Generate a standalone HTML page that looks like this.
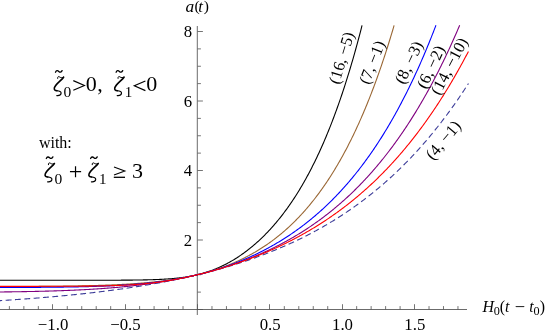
<!DOCTYPE html>
<html><head><meta charset="utf-8"><style>
html,body{margin:0;padding:0;background:#fff}
svg{display:block;will-change:transform}
text{font-family:"Liberation Serif",serif;fill:#000}
.i{font-style:italic}
</style></head><body>
<svg width="545" height="333" viewBox="0 0 545 333">
<rect width="545" height="333" fill="#fff"/>
<path d="M0 309.5 H467" stroke="#505050" stroke-width="0.85" fill="none"/>
<path d="M197.3 26 V315" stroke="#505050" stroke-width="0.85" fill="none"/>
<path d="M9.39 309.5 v-3.4 M23.86 309.5 v-3.4 M38.33 309.5 v-3.4 M52.50 309.5 v-5.3 M67.27 309.5 v-3.4 M81.74 309.5 v-3.4 M96.21 309.5 v-3.4 M110.68 309.5 v-3.4 M125.50 309.5 v-5.3 M139.62 309.5 v-3.4 M154.09 309.5 v-3.4 M168.56 309.5 v-3.4 M183.03 309.5 v-3.4 M197.50 309.5 v-5.3 M211.97 309.5 v-3.4 M226.44 309.5 v-3.4 M240.91 309.5 v-3.4 M255.38 309.5 v-3.4 M269.50 309.5 v-5.3 M284.32 309.5 v-3.4 M298.79 309.5 v-3.4 M313.26 309.5 v-3.4 M327.73 309.5 v-3.4 M342.50 309.5 v-5.3 M356.67 309.5 v-3.4 M371.14 309.5 v-3.4 M385.61 309.5 v-3.4 M400.08 309.5 v-3.4 M414.50 309.5 v-5.3 M429.02 309.5 v-3.4 M443.49 309.5 v-3.4 M457.96 309.5 v-3.4 M197.5 309.50 h5.4 M197.5 292.12 h3.4 M197.5 274.75 h3.4 M197.5 257.38 h3.4 M197.5 240.00 h5.4 M197.5 222.62 h3.4 M197.5 205.25 h3.4 M197.5 187.88 h3.4 M197.5 170.50 h5.4 M197.5 153.12 h3.4 M197.5 135.75 h3.4 M197.5 118.38 h3.4 M197.5 101.00 h5.4 M197.5 83.62 h3.4 M197.5 66.25 h3.4 M197.5 48.88 h3.4 M197.5 31.50 h5.4" stroke="#505050" stroke-width="0.8" fill="none"/>
<path d="M-1.61 300.72 L-0.82 300.67 L-0.04 300.63 L0.74 300.58 L1.53 300.53 L2.31 300.48 L3.09 300.43 L3.88 300.38 L4.66 300.33 L5.44 300.28 L6.23 300.23 L7.01 300.18 L7.79 300.13 L8.58 300.08 L9.36 300.03 L10.14 299.98 L10.93 299.93 L11.71 299.88 L12.49 299.82 L13.28 299.77 L14.06 299.72 L14.84 299.67 L15.63 299.61 L16.41 299.56 L17.20 299.50 L17.98 299.45 L18.76 299.40 L19.55 299.34 L20.33 299.29 L21.11 299.23 L21.90 299.17 L22.68 299.12 L23.46 299.06 L24.25 299.01 L25.03 298.95 L25.81 298.89 L26.60 298.83 L27.38 298.78 L28.16 298.72 L28.95 298.66 L29.73 298.60 L30.51 298.54 L31.30 298.48 L32.08 298.42 L32.86 298.36 L33.65 298.30 L34.43 298.24 L35.21 298.18 L36.00 298.12 L36.78 298.06 L37.56 297.99 L38.35 297.93 L39.13 297.87 L39.91 297.81 L40.70 297.74 L41.48 297.68 L42.26 297.61 L43.05 297.55 L43.83 297.48 L44.62 297.42 L45.40 297.35 L46.18 297.29 L46.97 297.22 L47.75 297.15 L48.53 297.09 L49.32 297.02 L50.10 296.95 L50.88 296.88 L51.67 296.82 L52.45 296.75 L53.23 296.68 L54.02 296.61 L54.80 296.54 L55.58 296.47 L56.37 296.40 L57.15 296.33 L57.93 296.25 L58.72 296.18 L59.50 296.11 L60.28 296.04 L61.07 295.96 L61.85 295.89 L62.63 295.82 L63.42 295.74 L64.20 295.67 L64.98 295.59 L65.77 295.52 L66.55 295.44 L67.33 295.37 L68.12 295.29 L68.90 295.21 L69.68 295.13 L70.47 295.06 L71.25 294.98 L72.04 294.90 L72.82 294.82 L73.60 294.74 L74.39 294.66 L75.17 294.58 L75.95 294.50 L76.74 294.42 L77.52 294.33 L78.30 294.25 L79.09 294.17 L79.87 294.09 L80.65 294.00 L81.44 293.92 L82.22 293.83 L83.00 293.75 L83.79 293.66 L84.57 293.58 L85.35 293.49 L86.14 293.40 L86.92 293.32 L87.70 293.23 L88.49 293.14 L89.27 293.05 L90.05 292.96 L90.84 292.87 L91.62 292.78 L92.40 292.69 L93.19 292.60 L93.97 292.51 L94.75 292.42 L95.54 292.32 L96.32 292.23 L97.10 292.14 L97.89 292.04 L98.67 291.95 L99.46 291.85 L100.24 291.76 L101.02 291.66 L101.81 291.56 L102.59 291.47 L103.37 291.37 L104.16 291.27 L104.94 291.17 L105.72 291.07 L106.51 290.97 L107.29 290.87 L108.07 290.77 L108.86 290.67 L109.64 290.57 L110.42 290.46 L111.21 290.36 L111.99 290.26 L112.77 290.15 L113.56 290.05 L114.34 289.94 L115.12 289.83 L115.91 289.73 L116.69 289.62 L117.47 289.51 L118.26 289.40 L119.04 289.29 L119.82 289.18 L120.61 289.07 L121.39 288.96 L122.17 288.85 L122.96 288.74 L123.74 288.63 L124.53 288.51 L125.31 288.40 L126.09 288.29 L126.88 288.17 L127.66 288.05 L128.44 287.94 L129.23 287.82 L130.01 287.70 L130.79 287.58 L131.58 287.47 L132.36 287.35 L133.14 287.23 L133.93 287.11 L134.71 286.98 L135.49 286.86 L136.28 286.74 L137.06 286.61 L137.84 286.49 L138.63 286.37 L139.41 286.24 L140.19 286.11 L140.98 285.99 L141.76 285.86 L142.54 285.73 L143.33 285.60 L144.11 285.47 L144.89 285.34 L145.68 285.21 L146.46 285.08 L147.24 284.95 L148.03 284.81 L148.81 284.68 L149.59 284.54 L150.38 284.41 L151.16 284.27 L151.95 284.14 L152.73 284.00 L153.51 283.86 L154.30 283.72 L155.08 283.58 L155.86 283.44 L156.65 283.30 L157.43 283.16 L158.21 283.01 L159.00 282.87 L159.78 282.72 L160.56 282.58 L161.35 282.43 L162.13 282.29 L162.91 282.14 L163.70 281.99 L164.48 281.84 L165.26 281.69 L166.05 281.54 L166.83 281.39 L167.61 281.23 L168.40 281.08 L169.18 280.93 L169.96 280.77 L170.75 280.62 L171.53 280.46 L172.31 280.30 L173.10 280.14 L173.88 279.98 L174.66 279.82 L175.45 279.66 L176.23 279.50 L177.01 279.34 L177.80 279.17 L178.58 279.01 L179.37 278.84 L180.15 278.68 L180.93 278.51 L181.72 278.34 L182.50 278.17 L183.28 278.00 L184.07 277.83 L184.85 277.66 L185.63 277.49 L186.42 277.31 L187.20 277.14 L187.98 276.96 L188.77 276.79 L189.55 276.61 L190.33 276.43 L191.12 276.25 L191.90 276.07 L192.68 275.89 L193.47 275.71 L194.25 275.52 L195.03 275.34 L195.82 275.15 L196.60 274.97 L197.38 274.78 L198.17 274.59 L198.95 274.40 L199.73 274.21 L200.52 274.02 L201.30 273.83 L202.08 273.63 L202.87 273.44 L203.65 273.24 L204.43 273.04 L205.22 272.85 L206.00 272.65 L206.79 272.45 L207.57 272.25 L208.35 272.04 L209.14 271.84 L209.92 271.64 L210.70 271.43 L211.49 271.22 L212.27 271.02 L213.05 270.81 L213.84 270.60 L214.62 270.39 L215.40 270.17 L216.19 269.96 L216.97 269.75 L217.75 269.53 L218.54 269.31 L219.32 269.09 L220.10 268.87 L220.89 268.65 L221.67 268.43 L222.45 268.21 L223.24 267.99 L224.02 267.76 L224.80 267.53 L225.59 267.31 L226.37 267.08 L227.15 266.85 L227.94 266.61 L228.72 266.38 L229.50 266.15 L230.29 265.91 L231.07 265.68 L231.85 265.44 L232.64 265.20 L233.42 264.96 L234.21 264.72 L234.99 264.47 L235.77 264.23 L236.56 263.98 L237.34 263.74 L238.12 263.49 L238.91 263.24 L239.69 262.99 L240.47 262.73 L241.26 262.48 L242.04 262.22 L242.82 261.97 L243.61 261.71 L244.39 261.45 L245.17 261.19 L245.96 260.93 L246.74 260.66 L247.52 260.40 L248.31 260.13 L249.09 259.86 L249.87 259.59 L250.66 259.32 L251.44 259.05 L252.22 258.78 L253.01 258.50 L253.79 258.23 L254.57 257.95 L255.36 257.67 L256.14 257.39 L256.92 257.10 L257.71 256.82 L258.49 256.53 L259.27 256.24 L260.06 255.96 L260.84 255.66 L261.63 255.37 L262.41 255.08 L263.19 254.78 L263.98 254.49 L264.76 254.19 L265.54 253.89 L266.33 253.59 L267.11 253.28 L267.89 252.98 L268.68 252.67 L269.46 252.36 L270.24 252.05 L271.03 251.74 L271.81 251.43 L272.59 251.11 L273.38 250.79 L274.16 250.47 L274.94 250.15 L275.73 249.83 L276.51 249.51 L277.29 249.18 L278.08 248.86 L278.86 248.53 L279.64 248.19 L280.43 247.86 L281.21 247.53 L281.99 247.19 L282.78 246.85 L283.56 246.51 L284.34 246.17 L285.13 245.83 L285.91 245.48 L286.70 245.13 L287.48 244.78 L288.26 244.43 L289.05 244.08 L289.83 243.72 L290.61 243.37 L291.40 243.01 L292.18 242.65 L292.96 242.28 L293.75 241.92 L294.53 241.55 L295.31 241.18 L296.10 240.81 L296.88 240.44 L297.66 240.06 L298.45 239.69 L299.23 239.31 L300.01 238.93 L300.80 238.54 L301.58 238.16 L302.36 237.77 L303.15 237.38 L303.93 236.99 L304.71 236.60 L305.50 236.20 L306.28 235.80 L307.06 235.40 L307.85 235.00 L308.63 234.60 L309.41 234.19 L310.20 233.78 L310.98 233.37 L311.76 232.96 L312.55 232.54 L313.33 232.12 L314.12 231.70 L314.90 231.28 L315.68 230.86 L316.47 230.43 L317.25 230.00 L318.03 229.57 L318.82 229.14 L319.60 228.70 L320.38 228.26 L321.17 227.82 L321.95 227.38 L322.73 226.93 L323.52 226.48 L324.30 226.03 L325.08 225.58 L325.87 225.12 L326.65 224.66 L327.43 224.20 L328.22 223.74 L329.00 223.28 L329.78 222.81 L330.57 222.34 L331.35 221.86 L332.13 221.39 L332.92 220.91 L333.70 220.43 L334.48 219.94 L335.27 219.46 L336.05 218.97 L336.83 218.48 L337.62 217.98 L338.40 217.49 L339.18 216.99 L339.97 216.49 L340.75 215.98 L341.54 215.47 L342.32 214.96 L343.10 214.45 L343.89 213.93 L344.67 213.41 L345.45 212.89 L346.24 212.37 L347.02 211.84 L347.80 211.31 L348.59 210.78 L349.37 210.24 L350.15 209.70 L350.94 209.16 L351.72 208.62 L352.50 208.07 L353.29 207.52 L354.07 206.96 L354.85 206.41 L355.64 205.85 L356.42 205.29 L357.20 204.72 L357.99 204.15 L358.77 203.58 L359.55 203.00 L360.34 202.43 L361.12 201.84 L361.90 201.26 L362.69 200.67 L363.47 200.08 L364.25 199.49 L365.04 198.89 L365.82 198.29 L366.60 197.69 L367.39 197.08 L368.17 196.47 L368.96 195.85 L369.74 195.24 L370.52 194.62 L371.31 193.99 L372.09 193.37 L372.87 192.74 L373.66 192.10 L374.44 191.47 L375.22 190.82 L376.01 190.18 L376.79 189.53 L377.57 188.88 L378.36 188.23 L379.14 187.57 L379.92 186.91 L380.71 186.24 L381.49 185.57 L382.27 184.90 L383.06 184.22 L383.84 183.54 L384.62 182.86 L385.41 182.17 L386.19 181.48 L386.97 180.78 L387.76 180.09 L388.54 179.38 L389.32 178.68 L390.11 177.97 L390.89 177.25 L391.67 176.53 L392.46 175.81 L393.24 175.09 L394.02 174.36 L394.81 173.62 L395.59 172.89 L396.38 172.14 L397.16 171.40 L397.94 170.65 L398.73 169.89 L399.51 169.14 L400.29 168.37 L401.08 167.61 L401.86 166.84 L402.64 166.06 L403.43 165.29 L404.21 164.50 L404.99 163.72 L405.78 162.92 L406.56 162.13 L407.34 161.33 L408.13 160.52 L408.91 159.71 L409.69 158.90 L410.48 158.08 L411.26 157.26 L412.04 156.44 L412.83 155.60 L413.61 154.77 L414.39 153.93 L415.18 153.08 L415.96 152.24 L416.74 151.38 L417.53 150.52 L418.31 149.66 L419.09 148.79 L419.88 147.92 L420.66 147.04 L421.44 146.16 L422.23 145.27 L423.01 144.38 L423.80 143.49 L424.58 142.58 L425.36 141.68 L426.15 140.77 L426.93 139.85 L427.71 138.93 L428.50 138.00 L429.28 137.07 L430.06 136.14 L430.85 135.20 L431.63 134.25 L432.41 133.30 L433.20 132.34 L433.98 131.38 L434.76 130.41 L435.55 129.44 L436.33 128.46 L437.11 127.48 L437.90 126.49 L438.68 125.50 L439.46 124.50 L440.25 123.50 L441.03 122.49 L441.81 121.47 L442.60 120.45 L443.38 119.42 L444.16 118.39 L444.95 117.35 L445.73 116.31 L446.51 115.26 L447.30 114.21 L448.08 113.15 L448.87 112.08 L449.65 111.01 L450.43 109.93 L451.22 108.85 L452.00 107.76 L452.78 106.66 L453.57 105.56 L454.35 104.46 L455.13 103.34 L455.92 102.22 L456.70 101.10 L457.48 99.97 L458.27 98.83 L459.05 97.69 L459.83 96.54 L460.62 95.38 L461.40 94.22 L462.18 93.05 L462.97 91.87 L463.75 90.69 L464.53 89.50 L465.32 88.31 L466.10 87.11 L466.88 85.90 L467.67 84.69 L468.45 83.47" fill="none" stroke="#3d3d99" stroke-width="1.1" stroke-dasharray="5.9 3.455" stroke-dashoffset="2.1"/>
<path d="M-1.61 280.28 L-0.82 280.28 L-0.04 280.28 L0.74 280.28 L1.53 280.28 L2.31 280.28 L3.09 280.28 L3.88 280.28 L4.66 280.28 L5.44 280.28 L6.23 280.28 L7.01 280.28 L7.79 280.28 L8.58 280.28 L9.36 280.28 L10.14 280.28 L10.93 280.28 L11.71 280.28 L12.49 280.28 L13.28 280.28 L14.06 280.28 L14.84 280.28 L15.63 280.28 L16.41 280.28 L17.20 280.28 L17.98 280.28 L18.76 280.28 L19.55 280.28 L20.33 280.28 L21.11 280.28 L21.90 280.28 L22.68 280.28 L23.46 280.28 L24.25 280.28 L25.03 280.28 L25.81 280.28 L26.60 280.28 L27.38 280.28 L28.16 280.28 L28.95 280.28 L29.73 280.28 L30.51 280.28 L31.30 280.28 L32.08 280.28 L32.86 280.28 L33.65 280.28 L34.43 280.28 L35.21 280.28 L36.00 280.28 L36.78 280.28 L37.56 280.28 L38.35 280.28 L39.13 280.28 L39.91 280.28 L40.70 280.28 L41.48 280.28 L42.26 280.28 L43.05 280.28 L43.83 280.28 L44.62 280.28 L45.40 280.28 L46.18 280.28 L46.97 280.28 L47.75 280.28 L48.53 280.28 L49.32 280.28 L50.10 280.28 L50.88 280.28 L51.67 280.28 L52.45 280.28 L53.23 280.28 L54.02 280.28 L54.80 280.28 L55.58 280.28 L56.37 280.28 L57.15 280.28 L57.93 280.28 L58.72 280.28 L59.50 280.28 L60.28 280.28 L61.07 280.27 L61.85 280.27 L62.63 280.27 L63.42 280.27 L64.20 280.27 L64.98 280.27 L65.77 280.27 L66.55 280.27 L67.33 280.27 L68.12 280.27 L68.90 280.27 L69.68 280.27 L70.47 280.27 L71.25 280.27 L72.04 280.27 L72.82 280.27 L73.60 280.27 L74.39 280.27 L75.17 280.27 L75.95 280.27 L76.74 280.27 L77.52 280.27 L78.30 280.27 L79.09 280.27 L79.87 280.27 L80.65 280.27 L81.44 280.27 L82.22 280.27 L83.00 280.27 L83.79 280.27 L84.57 280.26 L85.35 280.26 L86.14 280.26 L86.92 280.26 L87.70 280.26 L88.49 280.26 L89.27 280.26 L90.05 280.26 L90.84 280.26 L91.62 280.26 L92.40 280.26 L93.19 280.26 L93.97 280.26 L94.75 280.25 L95.54 280.25 L96.32 280.25 L97.10 280.25 L97.89 280.25 L98.67 280.25 L99.46 280.25 L100.24 280.25 L101.02 280.24 L101.81 280.24 L102.59 280.24 L103.37 280.24 L104.16 280.24 L104.94 280.24 L105.72 280.23 L106.51 280.23 L107.29 280.23 L108.07 280.23 L108.86 280.22 L109.64 280.22 L110.42 280.22 L111.21 280.22 L111.99 280.21 L112.77 280.21 L113.56 280.21 L114.34 280.21 L115.12 280.20 L115.91 280.20 L116.69 280.20 L117.47 280.19 L118.26 280.19 L119.04 280.18 L119.82 280.18 L120.61 280.18 L121.39 280.17 L122.17 280.17 L122.96 280.16 L123.74 280.16 L124.53 280.15 L125.31 280.14 L126.09 280.14 L126.88 280.13 L127.66 280.13 L128.44 280.12 L129.23 280.11 L130.01 280.11 L130.79 280.10 L131.58 280.09 L132.36 280.08 L133.14 280.07 L133.93 280.06 L134.71 280.05 L135.49 280.04 L136.28 280.03 L137.06 280.02 L137.84 280.01 L138.63 280.00 L139.41 279.99 L140.19 279.98 L140.98 279.96 L141.76 279.95 L142.54 279.93 L143.33 279.92 L144.11 279.90 L144.89 279.89 L145.68 279.87 L146.46 279.85 L147.24 279.84 L148.03 279.82 L148.81 279.80 L149.59 279.78 L150.38 279.75 L151.16 279.73 L151.95 279.71 L152.73 279.68 L153.51 279.66 L154.30 279.63 L155.08 279.60 L155.86 279.57 L156.65 279.54 L157.43 279.51 L158.21 279.48 L159.00 279.45 L159.78 279.41 L160.56 279.37 L161.35 279.34 L162.13 279.30 L162.91 279.25 L163.70 279.21 L164.48 279.17 L165.26 279.12 L166.05 279.07 L166.83 279.02 L167.61 278.97 L168.40 278.92 L169.18 278.86 L169.96 278.80 L170.75 278.74 L171.53 278.68 L172.31 278.61 L173.10 278.54 L173.88 278.47 L174.66 278.40 L175.45 278.33 L176.23 278.25 L177.01 278.17 L177.80 278.08 L178.58 277.99 L179.37 277.90 L180.15 277.81 L180.93 277.71 L181.72 277.61 L182.50 277.51 L183.28 277.40 L184.07 277.29 L184.85 277.18 L185.63 277.06 L186.42 276.94 L187.20 276.81 L187.98 276.68 L188.77 276.55 L189.55 276.41 L190.33 276.27 L191.12 276.12 L191.90 275.97 L192.68 275.81 L193.47 275.65 L194.25 275.49 L195.03 275.32 L195.82 275.14 L196.60 274.96 L197.38 274.78 L198.17 274.59 L198.95 274.39 L199.73 274.19 L200.52 273.99 L201.30 273.78 L202.08 273.56 L202.87 273.34 L203.65 273.11 L204.43 272.88 L205.22 272.64 L206.00 272.39 L206.79 272.14 L207.57 271.89 L208.35 271.63 L209.14 271.36 L209.92 271.08 L210.70 270.80 L211.49 270.52 L212.27 270.23 L213.05 269.93 L213.84 269.63 L214.62 269.31 L215.40 269.00 L216.19 268.68 L216.97 268.35 L217.75 268.01 L218.54 267.67 L219.32 267.32 L220.10 266.97 L220.89 266.60 L221.67 266.24 L222.45 265.86 L223.24 265.48 L224.02 265.09 L224.80 264.70 L225.59 264.30 L226.37 263.89 L227.15 263.48 L227.94 263.06 L228.72 262.63 L229.50 262.20 L230.29 261.76 L231.07 261.31 L231.85 260.85 L232.64 260.39 L233.42 259.92 L234.21 259.45 L234.99 258.96 L235.77 258.47 L236.56 257.98 L237.34 257.47 L238.12 256.96 L238.91 256.45 L239.69 255.92 L240.47 255.39 L241.26 254.85 L242.04 254.30 L242.82 253.75 L243.61 253.18 L244.39 252.61 L245.17 252.04 L245.96 251.45 L246.74 250.86 L247.52 250.26 L248.31 249.65 L249.09 249.04 L249.87 248.42 L250.66 247.79 L251.44 247.15 L252.22 246.50 L253.01 245.85 L253.79 245.18 L254.57 244.51 L255.36 243.83 L256.14 243.15 L256.92 242.45 L257.71 241.75 L258.49 241.03 L259.27 240.31 L260.06 239.58 L260.84 238.85 L261.63 238.10 L262.41 237.34 L263.19 236.58 L263.98 235.80 L264.76 235.02 L265.54 234.23 L266.33 233.43 L267.11 232.62 L267.89 231.80 L268.68 230.97 L269.46 230.13 L270.24 229.28 L271.03 228.42 L271.81 227.55 L272.59 226.68 L273.38 225.79 L274.16 224.89 L274.94 223.98 L275.73 223.06 L276.51 222.13 L277.29 221.20 L278.08 220.25 L278.86 219.28 L279.64 218.31 L280.43 217.33 L281.21 216.34 L281.99 215.33 L282.78 214.32 L283.56 213.29 L284.34 212.25 L285.13 211.20 L285.91 210.14 L286.70 209.06 L287.48 207.98 L288.26 206.88 L289.05 205.77 L289.83 204.65 L290.61 203.51 L291.40 202.37 L292.18 201.21 L292.96 200.03 L293.75 198.85 L294.53 197.65 L295.31 196.44 L296.10 195.21 L296.88 193.97 L297.66 192.72 L298.45 191.45 L299.23 190.17 L300.01 188.88 L300.80 187.57 L301.58 186.25 L302.36 184.91 L303.15 183.56 L303.93 182.19 L304.71 180.81 L305.50 179.41 L306.28 178.00 L307.06 176.57 L307.85 175.12 L308.63 173.66 L309.41 172.19 L310.20 170.70 L310.98 169.19 L311.76 167.66 L312.55 166.12 L313.33 164.56 L314.12 162.99 L314.90 161.40 L315.68 159.79 L316.47 158.16 L317.25 156.51 L318.03 154.85 L318.82 153.17 L319.60 151.47 L320.38 149.75 L321.17 148.01 L321.95 146.26 L322.73 144.48 L323.52 142.68 L324.30 140.87 L325.08 139.04 L325.87 137.18 L326.65 135.31 L327.43 133.41 L328.22 131.50 L329.00 129.56 L329.78 127.60 L330.57 125.62 L331.35 123.62 L332.13 121.60 L332.92 119.56 L333.70 117.49 L334.48 115.40 L335.27 113.29 L336.05 111.15 L336.83 108.99 L337.62 106.81 L338.40 104.61 L339.18 102.38 L339.97 100.12 L340.75 97.84 L341.54 95.54 L342.32 93.21 L343.10 90.86 L343.89 88.48 L344.67 86.07 L345.45 83.64 L346.24 81.18 L347.02 78.70 L347.80 76.18 L348.59 73.65 L349.37 71.08 L350.15 68.48 L350.94 65.86 L351.72 63.21 L352.50 60.53 L353.29 57.82 L354.07 55.08 L354.85 52.31 L355.64 49.51 L356.42 46.68 L357.20 43.82 L357.99 40.92 L358.77 38.00 L359.55 35.05 L360.34 32.06 L361.12 29.04 L361.90 25.98 L362.08 25.30" fill="none" stroke="#000000" stroke-width="1.1"/>
<path d="M-1.61 286.63 L-0.82 286.63 L-0.04 286.62 L0.74 286.62 L1.53 286.62 L2.31 286.62 L3.09 286.61 L3.88 286.61 L4.66 286.61 L5.44 286.61 L6.23 286.60 L7.01 286.60 L7.79 286.60 L8.58 286.59 L9.36 286.59 L10.14 286.59 L10.93 286.59 L11.71 286.58 L12.49 286.58 L13.28 286.58 L14.06 286.57 L14.84 286.57 L15.63 286.57 L16.41 286.56 L17.20 286.56 L17.98 286.55 L18.76 286.55 L19.55 286.55 L20.33 286.54 L21.11 286.54 L21.90 286.53 L22.68 286.53 L23.46 286.53 L24.25 286.52 L25.03 286.52 L25.81 286.51 L26.60 286.51 L27.38 286.50 L28.16 286.50 L28.95 286.50 L29.73 286.49 L30.51 286.49 L31.30 286.48 L32.08 286.48 L32.86 286.47 L33.65 286.46 L34.43 286.46 L35.21 286.45 L36.00 286.45 L36.78 286.44 L37.56 286.44 L38.35 286.43 L39.13 286.42 L39.91 286.42 L40.70 286.41 L41.48 286.41 L42.26 286.40 L43.05 286.39 L43.83 286.39 L44.62 286.38 L45.40 286.37 L46.18 286.36 L46.97 286.36 L47.75 286.35 L48.53 286.34 L49.32 286.33 L50.10 286.33 L50.88 286.32 L51.67 286.31 L52.45 286.30 L53.23 286.29 L54.02 286.28 L54.80 286.28 L55.58 286.27 L56.37 286.26 L57.15 286.25 L57.93 286.24 L58.72 286.23 L59.50 286.22 L60.28 286.21 L61.07 286.20 L61.85 286.19 L62.63 286.18 L63.42 286.17 L64.20 286.16 L64.98 286.14 L65.77 286.13 L66.55 286.12 L67.33 286.11 L68.12 286.10 L68.90 286.08 L69.68 286.07 L70.47 286.06 L71.25 286.05 L72.04 286.03 L72.82 286.02 L73.60 286.01 L74.39 285.99 L75.17 285.98 L75.95 285.96 L76.74 285.95 L77.52 285.93 L78.30 285.92 L79.09 285.90 L79.87 285.89 L80.65 285.87 L81.44 285.85 L82.22 285.84 L83.00 285.82 L83.79 285.80 L84.57 285.78 L85.35 285.77 L86.14 285.75 L86.92 285.73 L87.70 285.71 L88.49 285.69 L89.27 285.67 L90.05 285.65 L90.84 285.63 L91.62 285.61 L92.40 285.59 L93.19 285.57 L93.97 285.54 L94.75 285.52 L95.54 285.50 L96.32 285.47 L97.10 285.45 L97.89 285.43 L98.67 285.40 L99.46 285.38 L100.24 285.35 L101.02 285.33 L101.81 285.30 L102.59 285.27 L103.37 285.24 L104.16 285.22 L104.94 285.19 L105.72 285.16 L106.51 285.13 L107.29 285.10 L108.07 285.07 L108.86 285.04 L109.64 285.01 L110.42 284.97 L111.21 284.94 L111.99 284.91 L112.77 284.87 L113.56 284.84 L114.34 284.80 L115.12 284.77 L115.91 284.73 L116.69 284.70 L117.47 284.66 L118.26 284.62 L119.04 284.58 L119.82 284.54 L120.61 284.50 L121.39 284.46 L122.17 284.42 L122.96 284.38 L123.74 284.33 L124.53 284.29 L125.31 284.24 L126.09 284.20 L126.88 284.15 L127.66 284.10 L128.44 284.06 L129.23 284.01 L130.01 283.96 L130.79 283.91 L131.58 283.86 L132.36 283.80 L133.14 283.75 L133.93 283.70 L134.71 283.64 L135.49 283.59 L136.28 283.53 L137.06 283.47 L137.84 283.41 L138.63 283.35 L139.41 283.29 L140.19 283.23 L140.98 283.17 L141.76 283.10 L142.54 283.04 L143.33 282.97 L144.11 282.91 L144.89 282.84 L145.68 282.77 L146.46 282.70 L147.24 282.63 L148.03 282.55 L148.81 282.48 L149.59 282.41 L150.38 282.33 L151.16 282.25 L151.95 282.17 L152.73 282.09 L153.51 282.01 L154.30 281.93 L155.08 281.84 L155.86 281.76 L156.65 281.67 L157.43 281.58 L158.21 281.49 L159.00 281.40 L159.78 281.31 L160.56 281.22 L161.35 281.12 L162.13 281.02 L162.91 280.93 L163.70 280.83 L164.48 280.73 L165.26 280.62 L166.05 280.52 L166.83 280.41 L167.61 280.30 L168.40 280.19 L169.18 280.08 L169.96 279.97 L170.75 279.86 L171.53 279.74 L172.31 279.62 L173.10 279.50 L173.88 279.38 L174.66 279.26 L175.45 279.13 L176.23 279.00 L177.01 278.87 L177.80 278.74 L178.58 278.61 L179.37 278.48 L180.15 278.34 L180.93 278.20 L181.72 278.06 L182.50 277.92 L183.28 277.77 L184.07 277.62 L184.85 277.47 L185.63 277.32 L186.42 277.17 L187.20 277.01 L187.98 276.86 L188.77 276.70 L189.55 276.53 L190.33 276.37 L191.12 276.20 L191.90 276.03 L192.68 275.86 L193.47 275.69 L194.25 275.51 L195.03 275.33 L195.82 275.15 L196.60 274.96 L197.38 274.78 L198.17 274.59 L198.95 274.40 L199.73 274.20 L200.52 274.01 L201.30 273.81 L202.08 273.60 L202.87 273.40 L203.65 273.19 L204.43 272.98 L205.22 272.77 L206.00 272.55 L206.79 272.33 L207.57 272.11 L208.35 271.89 L209.14 271.66 L209.92 271.43 L210.70 271.20 L211.49 270.96 L212.27 270.72 L213.05 270.48 L213.84 270.23 L214.62 269.98 L215.40 269.73 L216.19 269.48 L216.97 269.22 L217.75 268.96 L218.54 268.69 L219.32 268.42 L220.10 268.15 L220.89 267.88 L221.67 267.60 L222.45 267.32 L223.24 267.03 L224.02 266.74 L224.80 266.45 L225.59 266.16 L226.37 265.86 L227.15 265.55 L227.94 265.25 L228.72 264.94 L229.50 264.62 L230.29 264.30 L231.07 263.98 L231.85 263.66 L232.64 263.33 L233.42 262.99 L234.21 262.66 L234.99 262.32 L235.77 261.97 L236.56 261.62 L237.34 261.27 L238.12 260.91 L238.91 260.55 L239.69 260.18 L240.47 259.81 L241.26 259.44 L242.04 259.06 L242.82 258.68 L243.61 258.29 L244.39 257.90 L245.17 257.50 L245.96 257.10 L246.74 256.70 L247.52 256.29 L248.31 255.87 L249.09 255.46 L249.87 255.03 L250.66 254.60 L251.44 254.17 L252.22 253.73 L253.01 253.29 L253.79 252.84 L254.57 252.39 L255.36 251.93 L256.14 251.47 L256.92 251.00 L257.71 250.53 L258.49 250.05 L259.27 249.57 L260.06 249.08 L260.84 248.58 L261.63 248.08 L262.41 247.58 L263.19 247.07 L263.98 246.55 L264.76 246.03 L265.54 245.50 L266.33 244.97 L267.11 244.43 L267.89 243.89 L268.68 243.34 L269.46 242.78 L270.24 242.22 L271.03 241.65 L271.81 241.08 L272.59 240.50 L273.38 239.92 L274.16 239.32 L274.94 238.73 L275.73 238.12 L276.51 237.51 L277.29 236.89 L278.08 236.27 L278.86 235.64 L279.64 235.00 L280.43 234.36 L281.21 233.71 L281.99 233.05 L282.78 232.39 L283.56 231.72 L284.34 231.04 L285.13 230.36 L285.91 229.66 L286.70 228.97 L287.48 228.26 L288.26 227.55 L289.05 226.83 L289.83 226.10 L290.61 225.36 L291.40 224.62 L292.18 223.87 L292.96 223.11 L293.75 222.35 L294.53 221.57 L295.31 220.79 L296.10 220.00 L296.88 219.21 L297.66 218.40 L298.45 217.59 L299.23 216.77 L300.01 215.94 L300.80 215.10 L301.58 214.25 L302.36 213.40 L303.15 212.53 L303.93 211.66 L304.71 210.78 L305.50 209.89 L306.28 208.99 L307.06 208.08 L307.85 207.16 L308.63 206.24 L309.41 205.30 L310.20 204.36 L310.98 203.40 L311.76 202.44 L312.55 201.47 L313.33 200.48 L314.12 199.49 L314.90 198.49 L315.68 197.48 L316.47 196.45 L317.25 195.42 L318.03 194.38 L318.82 193.32 L319.60 192.26 L320.38 191.19 L321.17 190.10 L321.95 189.00 L322.73 187.90 L323.52 186.78 L324.30 185.65 L325.08 184.51 L325.87 183.36 L326.65 182.20 L327.43 181.03 L328.22 179.84 L329.00 178.65 L329.78 177.44 L330.57 176.22 L331.35 174.99 L332.13 173.74 L332.92 172.49 L333.70 171.22 L334.48 169.94 L335.27 168.64 L336.05 167.34 L336.83 166.02 L337.62 164.69 L338.40 163.34 L339.18 161.98 L339.97 160.61 L340.75 159.23 L341.54 157.83 L342.32 156.42 L343.10 154.99 L343.89 153.55 L344.67 152.10 L345.45 150.63 L346.24 149.15 L347.02 147.66 L347.80 146.15 L348.59 144.62 L349.37 143.08 L350.15 141.53 L350.94 139.96 L351.72 138.37 L352.50 136.77 L353.29 135.15 L354.07 133.52 L354.85 131.88 L355.64 130.21 L356.42 128.53 L357.20 126.84 L357.99 125.13 L358.77 123.40 L359.55 121.65 L360.34 119.89 L361.12 118.11 L361.90 116.31 L362.69 114.50 L363.47 112.67 L364.25 110.82 L365.04 108.95 L365.82 107.07 L366.60 105.17 L367.39 103.24 L368.17 101.30 L368.96 99.35 L369.74 97.37 L370.52 95.37 L371.31 93.36 L372.09 91.32 L372.87 89.27 L373.66 87.19 L374.44 85.10 L375.22 82.98 L376.01 80.85 L376.79 78.69 L377.57 76.52 L378.36 74.32 L379.14 72.10 L379.92 69.86 L380.71 67.60 L381.49 65.32 L382.27 63.02 L383.06 60.69 L383.84 58.34 L384.62 55.97 L385.41 53.57 L386.19 51.16 L386.97 48.72 L387.76 46.25 L388.54 43.77 L389.32 41.25 L390.11 38.72 L390.89 36.16 L391.67 33.58 L392.46 30.97 L393.24 28.33 L394.02 25.67 L394.13 25.30" fill="none" stroke="#996633" stroke-width="1.1"/>
<path d="M-1.61 287.52 L-0.82 287.52 L-0.04 287.52 L0.74 287.51 L1.53 287.51 L2.31 287.51 L3.09 287.51 L3.88 287.51 L4.66 287.50 L5.44 287.50 L6.23 287.50 L7.01 287.50 L7.79 287.49 L8.58 287.49 L9.36 287.49 L10.14 287.49 L10.93 287.48 L11.71 287.48 L12.49 287.48 L13.28 287.48 L14.06 287.47 L14.84 287.47 L15.63 287.47 L16.41 287.46 L17.20 287.46 L17.98 287.46 L18.76 287.45 L19.55 287.45 L20.33 287.45 L21.11 287.44 L21.90 287.44 L22.68 287.44 L23.46 287.43 L24.25 287.43 L25.03 287.42 L25.81 287.42 L26.60 287.42 L27.38 287.41 L28.16 287.41 L28.95 287.40 L29.73 287.40 L30.51 287.39 L31.30 287.39 L32.08 287.39 L32.86 287.38 L33.65 287.38 L34.43 287.37 L35.21 287.37 L36.00 287.36 L36.78 287.35 L37.56 287.35 L38.35 287.34 L39.13 287.34 L39.91 287.33 L40.70 287.33 L41.48 287.32 L42.26 287.31 L43.05 287.31 L43.83 287.30 L44.62 287.29 L45.40 287.29 L46.18 287.28 L46.97 287.27 L47.75 287.27 L48.53 287.26 L49.32 287.25 L50.10 287.24 L50.88 287.24 L51.67 287.23 L52.45 287.22 L53.23 287.21 L54.02 287.20 L54.80 287.19 L55.58 287.18 L56.37 287.18 L57.15 287.17 L57.93 287.16 L58.72 287.15 L59.50 287.14 L60.28 287.13 L61.07 287.12 L61.85 287.11 L62.63 287.09 L63.42 287.08 L64.20 287.07 L64.98 287.06 L65.77 287.05 L66.55 287.04 L67.33 287.03 L68.12 287.01 L68.90 287.00 L69.68 286.99 L70.47 286.97 L71.25 286.96 L72.04 286.95 L72.82 286.93 L73.60 286.92 L74.39 286.90 L75.17 286.89 L75.95 286.87 L76.74 286.86 L77.52 286.84 L78.30 286.83 L79.09 286.81 L79.87 286.79 L80.65 286.78 L81.44 286.76 L82.22 286.74 L83.00 286.72 L83.79 286.70 L84.57 286.68 L85.35 286.66 L86.14 286.64 L86.92 286.62 L87.70 286.60 L88.49 286.58 L89.27 286.56 L90.05 286.54 L90.84 286.52 L91.62 286.49 L92.40 286.47 L93.19 286.45 L93.97 286.42 L94.75 286.40 L95.54 286.37 L96.32 286.35 L97.10 286.32 L97.89 286.29 L98.67 286.27 L99.46 286.24 L100.24 286.21 L101.02 286.18 L101.81 286.15 L102.59 286.12 L103.37 286.09 L104.16 286.06 L104.94 286.03 L105.72 286.00 L106.51 285.97 L107.29 285.93 L108.07 285.90 L108.86 285.86 L109.64 285.83 L110.42 285.79 L111.21 285.76 L111.99 285.72 L112.77 285.68 L113.56 285.64 L114.34 285.60 L115.12 285.56 L115.91 285.52 L116.69 285.48 L117.47 285.44 L118.26 285.39 L119.04 285.35 L119.82 285.30 L120.61 285.26 L121.39 285.21 L122.17 285.16 L122.96 285.12 L123.74 285.07 L124.53 285.02 L125.31 284.97 L126.09 284.91 L126.88 284.86 L127.66 284.81 L128.44 284.75 L129.23 284.70 L130.01 284.64 L130.79 284.58 L131.58 284.53 L132.36 284.47 L133.14 284.41 L133.93 284.34 L134.71 284.28 L135.49 284.22 L136.28 284.15 L137.06 284.09 L137.84 284.02 L138.63 283.95 L139.41 283.88 L140.19 283.81 L140.98 283.74 L141.76 283.67 L142.54 283.60 L143.33 283.52 L144.11 283.45 L144.89 283.37 L145.68 283.29 L146.46 283.21 L147.24 283.13 L148.03 283.05 L148.81 282.97 L149.59 282.88 L150.38 282.79 L151.16 282.71 L151.95 282.62 L152.73 282.53 L153.51 282.44 L154.30 282.35 L155.08 282.25 L155.86 282.16 L156.65 282.06 L157.43 281.96 L158.21 281.86 L159.00 281.76 L159.78 281.66 L160.56 281.55 L161.35 281.45 L162.13 281.34 L162.91 281.23 L163.70 281.12 L164.48 281.01 L165.26 280.90 L166.05 280.78 L166.83 280.67 L167.61 280.55 L168.40 280.43 L169.18 280.31 L169.96 280.19 L170.75 280.06 L171.53 279.94 L172.31 279.81 L173.10 279.68 L173.88 279.55 L174.66 279.41 L175.45 279.28 L176.23 279.14 L177.01 279.01 L177.80 278.87 L178.58 278.73 L179.37 278.58 L180.15 278.44 L180.93 278.29 L181.72 278.14 L182.50 277.99 L183.28 277.84 L184.07 277.69 L184.85 277.53 L185.63 277.37 L186.42 277.21 L187.20 277.05 L187.98 276.89 L188.77 276.72 L189.55 276.56 L190.33 276.39 L191.12 276.22 L191.90 276.04 L192.68 275.87 L193.47 275.69 L194.25 275.51 L195.03 275.33 L195.82 275.15 L196.60 274.96 L197.38 274.78 L198.17 274.59 L198.95 274.40 L199.73 274.21 L200.52 274.01 L201.30 273.81 L202.08 273.61 L202.87 273.41 L203.65 273.21 L204.43 273.00 L205.22 272.80 L206.00 272.59 L206.79 272.37 L207.57 272.16 L208.35 271.94 L209.14 271.72 L209.92 271.50 L210.70 271.28 L211.49 271.06 L212.27 270.83 L213.05 270.60 L213.84 270.37 L214.62 270.13 L215.40 269.90 L216.19 269.66 L216.97 269.42 L217.75 269.17 L218.54 268.93 L219.32 268.68 L220.10 268.43 L220.89 268.18 L221.67 267.92 L222.45 267.66 L223.24 267.40 L224.02 267.14 L224.80 266.88 L225.59 266.61 L226.37 266.34 L227.15 266.07 L227.94 265.79 L228.72 265.52 L229.50 265.24 L230.29 264.95 L231.07 264.67 L231.85 264.38 L232.64 264.09 L233.42 263.80 L234.21 263.51 L234.99 263.21 L235.77 262.91 L236.56 262.60 L237.34 262.30 L238.12 261.99 L238.91 261.68 L239.69 261.37 L240.47 261.05 L241.26 260.73 L242.04 260.41 L242.82 260.09 L243.61 259.76 L244.39 259.43 L245.17 259.10 L245.96 258.76 L246.74 258.42 L247.52 258.08 L248.31 257.74 L249.09 257.39 L249.87 257.04 L250.66 256.69 L251.44 256.33 L252.22 255.97 L253.01 255.61 L253.79 255.25 L254.57 254.88 L255.36 254.51 L256.14 254.14 L256.92 253.76 L257.71 253.38 L258.49 253.00 L259.27 252.61 L260.06 252.22 L260.84 251.83 L261.63 251.44 L262.41 251.04 L263.19 250.64 L263.98 250.23 L264.76 249.82 L265.54 249.41 L266.33 249.00 L267.11 248.58 L267.89 248.16 L268.68 247.74 L269.46 247.31 L270.24 246.88 L271.03 246.44 L271.81 246.01 L272.59 245.56 L273.38 245.12 L274.16 244.67 L274.94 244.22 L275.73 243.76 L276.51 243.31 L277.29 242.84 L278.08 242.38 L278.86 241.91 L279.64 241.43 L280.43 240.96 L281.21 240.48 L281.99 239.99 L282.78 239.50 L283.56 239.01 L284.34 238.52 L285.13 238.02 L285.91 237.51 L286.70 237.01 L287.48 236.50 L288.26 235.98 L289.05 235.46 L289.83 234.94 L290.61 234.41 L291.40 233.88 L292.18 233.35 L292.96 232.81 L293.75 232.27 L294.53 231.72 L295.31 231.17 L296.10 230.61 L296.88 230.06 L297.66 229.49 L298.45 228.92 L299.23 228.35 L300.01 227.78 L300.80 227.19 L301.58 226.61 L302.36 226.02 L303.15 225.43 L303.93 224.83 L304.71 224.22 L305.50 223.62 L306.28 223.00 L307.06 222.39 L307.85 221.77 L308.63 221.14 L309.41 220.51 L310.20 219.88 L310.98 219.24 L311.76 218.59 L312.55 217.94 L313.33 217.29 L314.12 216.63 L314.90 215.96 L315.68 215.29 L316.47 214.62 L317.25 213.94 L318.03 213.26 L318.82 212.57 L319.60 211.87 L320.38 211.17 L321.17 210.47 L321.95 209.76 L322.73 209.05 L323.52 208.33 L324.30 207.60 L325.08 206.87 L325.87 206.13 L326.65 205.39 L327.43 204.64 L328.22 203.89 L329.00 203.13 L329.78 202.37 L330.57 201.60 L331.35 200.82 L332.13 200.04 L332.92 199.26 L333.70 198.46 L334.48 197.66 L335.27 196.86 L336.05 196.05 L336.83 195.23 L337.62 194.41 L338.40 193.58 L339.18 192.75 L339.97 191.91 L340.75 191.06 L341.54 190.21 L342.32 189.35 L343.10 188.49 L343.89 187.61 L344.67 186.74 L345.45 185.85 L346.24 184.96 L347.02 184.06 L347.80 183.16 L348.59 182.25 L349.37 181.33 L350.15 180.41 L350.94 179.48 L351.72 178.54 L352.50 177.59 L353.29 176.64 L354.07 175.69 L354.85 174.72 L355.64 173.75 L356.42 172.77 L357.20 171.78 L357.99 170.79 L358.77 169.79 L359.55 168.78 L360.34 167.76 L361.12 166.74 L361.90 165.71 L362.69 164.67 L363.47 163.63 L364.25 162.57 L365.04 161.51 L365.82 160.44 L366.60 159.37 L367.39 158.28 L368.17 157.19 L368.96 156.09 L369.74 154.98 L370.52 153.86 L371.31 152.74 L372.09 151.61 L372.87 150.47 L373.66 149.32 L374.44 148.16 L375.22 146.99 L376.01 145.82 L376.79 144.64 L377.57 143.44 L378.36 142.24 L379.14 141.03 L379.92 139.82 L380.71 138.59 L381.49 137.35 L382.27 136.11 L383.06 134.86 L383.84 133.59 L384.62 132.32 L385.41 131.04 L386.19 129.75 L386.97 128.45 L387.76 127.14 L388.54 125.82 L389.32 124.49 L390.11 123.15 L390.89 121.81 L391.67 120.45 L392.46 119.08 L393.24 117.70 L394.02 116.32 L394.81 114.92 L395.59 113.51 L396.38 112.09 L397.16 110.66 L397.94 109.23 L398.73 107.78 L399.51 106.32 L400.29 104.85 L401.08 103.37 L401.86 101.87 L402.64 100.37 L403.43 98.86 L404.21 97.33 L404.99 95.80 L405.78 94.25 L406.56 92.69 L407.34 91.12 L408.13 89.54 L408.91 87.95 L409.69 86.35 L410.48 84.73 L411.26 83.11 L412.04 81.47 L412.83 79.82 L413.61 78.15 L414.39 76.48 L415.18 74.79 L415.96 73.09 L416.74 71.38 L417.53 69.66 L418.31 67.92 L419.09 66.17 L419.88 64.41 L420.66 62.64 L421.44 60.85 L422.23 59.05 L423.01 57.24 L423.80 55.41 L424.58 53.57 L425.36 51.72 L426.15 49.85 L426.93 47.97 L427.71 46.08 L428.50 44.17 L429.28 42.25 L430.06 40.31 L430.85 38.36 L431.63 36.40 L432.41 34.42 L433.20 32.43 L433.98 30.42 L434.76 28.40 L435.55 26.37 L435.96 25.30" fill="none" stroke="#0000ff" stroke-width="1.1"/>
<path d="M-1.61 292.00 L-0.82 291.99 L-0.04 291.98 L0.74 291.97 L1.53 291.96 L2.31 291.95 L3.09 291.94 L3.88 291.93 L4.66 291.92 L5.44 291.91 L6.23 291.90 L7.01 291.89 L7.79 291.88 L8.58 291.87 L9.36 291.86 L10.14 291.85 L10.93 291.84 L11.71 291.83 L12.49 291.82 L13.28 291.81 L14.06 291.80 L14.84 291.78 L15.63 291.77 L16.41 291.76 L17.20 291.75 L17.98 291.74 L18.76 291.72 L19.55 291.71 L20.33 291.70 L21.11 291.69 L21.90 291.67 L22.68 291.66 L23.46 291.64 L24.25 291.63 L25.03 291.62 L25.81 291.60 L26.60 291.59 L27.38 291.57 L28.16 291.56 L28.95 291.54 L29.73 291.53 L30.51 291.51 L31.30 291.50 L32.08 291.48 L32.86 291.46 L33.65 291.45 L34.43 291.43 L35.21 291.41 L36.00 291.39 L36.78 291.38 L37.56 291.36 L38.35 291.34 L39.13 291.32 L39.91 291.30 L40.70 291.28 L41.48 291.26 L42.26 291.25 L43.05 291.23 L43.83 291.20 L44.62 291.18 L45.40 291.16 L46.18 291.14 L46.97 291.12 L47.75 291.10 L48.53 291.08 L49.32 291.05 L50.10 291.03 L50.88 291.01 L51.67 290.99 L52.45 290.96 L53.23 290.94 L54.02 290.91 L54.80 290.89 L55.58 290.86 L56.37 290.84 L57.15 290.81 L57.93 290.79 L58.72 290.76 L59.50 290.73 L60.28 290.71 L61.07 290.68 L61.85 290.65 L62.63 290.62 L63.42 290.59 L64.20 290.56 L64.98 290.53 L65.77 290.50 L66.55 290.47 L67.33 290.44 L68.12 290.41 L68.90 290.38 L69.68 290.35 L70.47 290.31 L71.25 290.28 L72.04 290.25 L72.82 290.21 L73.60 290.18 L74.39 290.14 L75.17 290.11 L75.95 290.07 L76.74 290.04 L77.52 290.00 L78.30 289.96 L79.09 289.92 L79.87 289.88 L80.65 289.85 L81.44 289.81 L82.22 289.77 L83.00 289.73 L83.79 289.68 L84.57 289.64 L85.35 289.60 L86.14 289.56 L86.92 289.51 L87.70 289.47 L88.49 289.43 L89.27 289.38 L90.05 289.34 L90.84 289.29 L91.62 289.24 L92.40 289.20 L93.19 289.15 L93.97 289.10 L94.75 289.05 L95.54 289.00 L96.32 288.95 L97.10 288.90 L97.89 288.85 L98.67 288.79 L99.46 288.74 L100.24 288.69 L101.02 288.63 L101.81 288.58 L102.59 288.52 L103.37 288.47 L104.16 288.41 L104.94 288.35 L105.72 288.29 L106.51 288.23 L107.29 288.17 L108.07 288.11 L108.86 288.05 L109.64 287.99 L110.42 287.93 L111.21 287.86 L111.99 287.80 L112.77 287.73 L113.56 287.67 L114.34 287.60 L115.12 287.53 L115.91 287.46 L116.69 287.40 L117.47 287.33 L118.26 287.26 L119.04 287.18 L119.82 287.11 L120.61 287.04 L121.39 286.96 L122.17 286.89 L122.96 286.81 L123.74 286.74 L124.53 286.66 L125.31 286.58 L126.09 286.50 L126.88 286.42 L127.66 286.34 L128.44 286.26 L129.23 286.18 L130.01 286.09 L130.79 286.01 L131.58 285.92 L132.36 285.84 L133.14 285.75 L133.93 285.66 L134.71 285.57 L135.49 285.48 L136.28 285.39 L137.06 285.30 L137.84 285.21 L138.63 285.11 L139.41 285.02 L140.19 284.92 L140.98 284.83 L141.76 284.73 L142.54 284.63 L143.33 284.53 L144.11 284.43 L144.89 284.33 L145.68 284.22 L146.46 284.12 L147.24 284.01 L148.03 283.91 L148.81 283.80 L149.59 283.69 L150.38 283.58 L151.16 283.47 L151.95 283.36 L152.73 283.25 L153.51 283.13 L154.30 283.02 L155.08 282.90 L155.86 282.79 L156.65 282.67 L157.43 282.55 L158.21 282.43 L159.00 282.31 L159.78 282.18 L160.56 282.06 L161.35 281.93 L162.13 281.81 L162.91 281.68 L163.70 281.55 L164.48 281.42 L165.26 281.29 L166.05 281.16 L166.83 281.02 L167.61 280.89 L168.40 280.75 L169.18 280.62 L169.96 280.48 L170.75 280.34 L171.53 280.20 L172.31 280.05 L173.10 279.91 L173.88 279.76 L174.66 279.62 L175.45 279.47 L176.23 279.32 L177.01 279.17 L177.80 279.02 L178.58 278.87 L179.37 278.71 L180.15 278.56 L180.93 278.40 L181.72 278.24 L182.50 278.08 L183.28 277.92 L184.07 277.76 L184.85 277.59 L185.63 277.43 L186.42 277.26 L187.20 277.09 L187.98 276.93 L188.77 276.75 L189.55 276.58 L190.33 276.41 L191.12 276.23 L191.90 276.06 L192.68 275.88 L193.47 275.70 L194.25 275.52 L195.03 275.33 L195.82 275.15 L196.60 274.96 L197.38 274.78 L198.17 274.59 L198.95 274.40 L199.73 274.21 L200.52 274.01 L201.30 273.82 L202.08 273.62 L202.87 273.42 L203.65 273.22 L204.43 273.02 L205.22 272.82 L206.00 272.62 L206.79 272.41 L207.57 272.20 L208.35 271.99 L209.14 271.78 L209.92 271.57 L210.70 271.36 L211.49 271.14 L212.27 270.92 L213.05 270.70 L213.84 270.48 L214.62 270.26 L215.40 270.03 L216.19 269.81 L216.97 269.58 L217.75 269.35 L218.54 269.12 L219.32 268.89 L220.10 268.65 L220.89 268.41 L221.67 268.18 L222.45 267.94 L223.24 267.69 L224.02 267.45 L224.80 267.20 L225.59 266.96 L226.37 266.71 L227.15 266.45 L227.94 266.20 L228.72 265.95 L229.50 265.69 L230.29 265.43 L231.07 265.17 L231.85 264.91 L232.64 264.64 L233.42 264.37 L234.21 264.11 L234.99 263.84 L235.77 263.56 L236.56 263.29 L237.34 263.01 L238.12 262.73 L238.91 262.45 L239.69 262.17 L240.47 261.88 L241.26 261.60 L242.04 261.31 L242.82 261.02 L243.61 260.72 L244.39 260.43 L245.17 260.13 L245.96 259.83 L246.74 259.53 L247.52 259.23 L248.31 258.92 L249.09 258.61 L249.87 258.30 L250.66 257.99 L251.44 257.67 L252.22 257.36 L253.01 257.04 L253.79 256.71 L254.57 256.39 L255.36 256.06 L256.14 255.74 L256.92 255.41 L257.71 255.07 L258.49 254.74 L259.27 254.40 L260.06 254.06 L260.84 253.72 L261.63 253.37 L262.41 253.02 L263.19 252.67 L263.98 252.32 L264.76 251.97 L265.54 251.61 L266.33 251.25 L267.11 250.89 L267.89 250.52 L268.68 250.15 L269.46 249.78 L270.24 249.41 L271.03 249.04 L271.81 248.66 L272.59 248.28 L273.38 247.89 L274.16 247.51 L274.94 247.12 L275.73 246.73 L276.51 246.34 L277.29 245.94 L278.08 245.54 L278.86 245.14 L279.64 244.73 L280.43 244.33 L281.21 243.92 L281.99 243.50 L282.78 243.09 L283.56 242.67 L284.34 242.25 L285.13 241.82 L285.91 241.40 L286.70 240.97 L287.48 240.53 L288.26 240.10 L289.05 239.66 L289.83 239.21 L290.61 238.77 L291.40 238.32 L292.18 237.87 L292.96 237.42 L293.75 236.96 L294.53 236.50 L295.31 236.04 L296.10 235.57 L296.88 235.10 L297.66 234.63 L298.45 234.15 L299.23 233.67 L300.01 233.19 L300.80 232.70 L301.58 232.21 L302.36 231.72 L303.15 231.22 L303.93 230.73 L304.71 230.22 L305.50 229.72 L306.28 229.21 L307.06 228.70 L307.85 228.18 L308.63 227.66 L309.41 227.14 L310.20 226.61 L310.98 226.08 L311.76 225.55 L312.55 225.01 L313.33 224.47 L314.12 223.92 L314.90 223.38 L315.68 222.82 L316.47 222.27 L317.25 221.71 L318.03 221.15 L318.82 220.58 L319.60 220.01 L320.38 219.44 L321.17 218.86 L321.95 218.28 L322.73 217.69 L323.52 217.10 L324.30 216.51 L325.08 215.91 L325.87 215.31 L326.65 214.70 L327.43 214.09 L328.22 213.48 L329.00 212.86 L329.78 212.24 L330.57 211.61 L331.35 210.98 L332.13 210.35 L332.92 209.71 L333.70 209.07 L334.48 208.42 L335.27 207.77 L336.05 207.11 L336.83 206.45 L337.62 205.79 L338.40 205.12 L339.18 204.45 L339.97 203.77 L340.75 203.09 L341.54 202.40 L342.32 201.71 L343.10 201.01 L343.89 200.31 L344.67 199.61 L345.45 198.90 L346.24 198.18 L347.02 197.47 L347.80 196.74 L348.59 196.01 L349.37 195.28 L350.15 194.54 L350.94 193.80 L351.72 193.05 L352.50 192.30 L353.29 191.54 L354.07 190.78 L354.85 190.01 L355.64 189.24 L356.42 188.46 L357.20 187.68 L357.99 186.89 L358.77 186.09 L359.55 185.29 L360.34 184.49 L361.12 183.68 L361.90 182.87 L362.69 182.05 L363.47 181.22 L364.25 180.39 L365.04 179.55 L365.82 178.71 L366.60 177.86 L367.39 177.01 L368.17 176.15 L368.96 175.29 L369.74 174.42 L370.52 173.54 L371.31 172.66 L372.09 171.78 L372.87 170.88 L373.66 169.98 L374.44 169.08 L375.22 168.17 L376.01 167.25 L376.79 166.33 L377.57 165.40 L378.36 164.47 L379.14 163.52 L379.92 162.58 L380.71 161.62 L381.49 160.66 L382.27 159.70 L383.06 158.73 L383.84 157.75 L384.62 156.76 L385.41 155.77 L386.19 154.77 L386.97 153.77 L387.76 152.76 L388.54 151.74 L389.32 150.72 L390.11 149.68 L390.89 148.65 L391.67 147.60 L392.46 146.55 L393.24 145.49 L394.02 144.43 L394.81 143.35 L395.59 142.27 L396.38 141.19 L397.16 140.09 L397.94 138.99 L398.73 137.89 L399.51 136.77 L400.29 135.65 L401.08 134.52 L401.86 133.38 L402.64 132.24 L403.43 131.08 L404.21 129.92 L404.99 128.76 L405.78 127.58 L406.56 126.40 L407.34 125.21 L408.13 124.01 L408.91 122.80 L409.69 121.59 L410.48 120.37 L411.26 119.14 L412.04 117.90 L412.83 116.66 L413.61 115.40 L414.39 114.14 L415.18 112.87 L415.96 111.59 L416.74 110.30 L417.53 109.01 L418.31 107.70 L419.09 106.39 L419.88 105.07 L420.66 103.74 L421.44 102.40 L422.23 101.05 L423.01 99.70 L423.80 98.33 L424.58 96.96 L425.36 95.57 L426.15 94.18 L426.93 92.78 L427.71 91.37 L428.50 89.95 L429.28 88.52 L430.06 87.09 L430.85 85.64 L431.63 84.18 L432.41 82.72 L433.20 81.24 L433.98 79.75 L434.76 78.26 L435.55 76.75 L436.33 75.24 L437.11 73.71 L437.90 72.18 L438.68 70.63 L439.46 69.08 L440.25 67.51 L441.03 65.94 L441.81 64.35 L442.60 62.76 L443.38 61.15 L444.16 59.53 L444.95 57.91 L445.73 56.27 L446.51 54.62 L447.30 52.96 L448.08 51.29 L448.87 49.61 L449.65 47.92 L450.43 46.21 L451.22 44.50 L452.00 42.77 L452.78 41.04 L453.57 39.29 L454.35 37.53 L455.13 35.76 L455.92 33.98 L456.70 32.18 L457.48 30.38 L458.27 28.56 L459.05 26.73 L459.66 25.30" fill="none" stroke="#800080" stroke-width="1.1"/>
<path d="M-1.61 286.34 L-0.82 286.34 L-0.04 286.34 L0.74 286.34 L1.53 286.34 L2.31 286.34 L3.09 286.34 L3.88 286.34 L4.66 286.34 L5.44 286.34 L6.23 286.34 L7.01 286.34 L7.79 286.34 L8.58 286.34 L9.36 286.34 L10.14 286.34 L10.93 286.34 L11.71 286.34 L12.49 286.34 L13.28 286.34 L14.06 286.34 L14.84 286.34 L15.63 286.34 L16.41 286.34 L17.20 286.34 L17.98 286.34 L18.76 286.34 L19.55 286.34 L20.33 286.34 L21.11 286.34 L21.90 286.34 L22.68 286.34 L23.46 286.34 L24.25 286.34 L25.03 286.33 L25.81 286.33 L26.60 286.33 L27.38 286.33 L28.16 286.33 L28.95 286.33 L29.73 286.33 L30.51 286.33 L31.30 286.33 L32.08 286.33 L32.86 286.33 L33.65 286.33 L34.43 286.33 L35.21 286.33 L36.00 286.33 L36.78 286.33 L37.56 286.33 L38.35 286.32 L39.13 286.32 L39.91 286.32 L40.70 286.32 L41.48 286.32 L42.26 286.32 L43.05 286.32 L43.83 286.32 L44.62 286.32 L45.40 286.32 L46.18 286.32 L46.97 286.31 L47.75 286.31 L48.53 286.31 L49.32 286.31 L50.10 286.31 L50.88 286.31 L51.67 286.31 L52.45 286.30 L53.23 286.30 L54.02 286.30 L54.80 286.30 L55.58 286.30 L56.37 286.30 L57.15 286.29 L57.93 286.29 L58.72 286.29 L59.50 286.29 L60.28 286.29 L61.07 286.28 L61.85 286.28 L62.63 286.28 L63.42 286.28 L64.20 286.27 L64.98 286.27 L65.77 286.27 L66.55 286.26 L67.33 286.26 L68.12 286.26 L68.90 286.25 L69.68 286.25 L70.47 286.25 L71.25 286.24 L72.04 286.24 L72.82 286.24 L73.60 286.23 L74.39 286.23 L75.17 286.22 L75.95 286.22 L76.74 286.21 L77.52 286.21 L78.30 286.20 L79.09 286.20 L79.87 286.19 L80.65 286.19 L81.44 286.18 L82.22 286.17 L83.00 286.17 L83.79 286.16 L84.57 286.15 L85.35 286.15 L86.14 286.14 L86.92 286.13 L87.70 286.12 L88.49 286.12 L89.27 286.11 L90.05 286.10 L90.84 286.09 L91.62 286.08 L92.40 286.07 L93.19 286.06 L93.97 286.05 L94.75 286.04 L95.54 286.02 L96.32 286.01 L97.10 286.00 L97.89 285.99 L98.67 285.97 L99.46 285.96 L100.24 285.95 L101.02 285.93 L101.81 285.92 L102.59 285.90 L103.37 285.88 L104.16 285.87 L104.94 285.85 L105.72 285.83 L106.51 285.81 L107.29 285.79 L108.07 285.77 L108.86 285.75 L109.64 285.73 L110.42 285.71 L111.21 285.69 L111.99 285.66 L112.77 285.64 L113.56 285.61 L114.34 285.59 L115.12 285.56 L115.91 285.53 L116.69 285.51 L117.47 285.48 L118.26 285.45 L119.04 285.41 L119.82 285.38 L120.61 285.35 L121.39 285.32 L122.17 285.28 L122.96 285.24 L123.74 285.21 L124.53 285.17 L125.31 285.13 L126.09 285.09 L126.88 285.04 L127.66 285.00 L128.44 284.96 L129.23 284.91 L130.01 284.86 L130.79 284.82 L131.58 284.77 L132.36 284.72 L133.14 284.66 L133.93 284.61 L134.71 284.55 L135.49 284.50 L136.28 284.44 L137.06 284.38 L137.84 284.32 L138.63 284.26 L139.41 284.19 L140.19 284.13 L140.98 284.06 L141.76 283.99 L142.54 283.92 L143.33 283.85 L144.11 283.78 L144.89 283.70 L145.68 283.62 L146.46 283.55 L147.24 283.46 L148.03 283.38 L148.81 283.30 L149.59 283.21 L150.38 283.13 L151.16 283.04 L151.95 282.95 L152.73 282.86 L153.51 282.76 L154.30 282.67 L155.08 282.57 L155.86 282.47 L156.65 282.37 L157.43 282.27 L158.21 282.16 L159.00 282.06 L159.78 281.95 L160.56 281.84 L161.35 281.73 L162.13 281.61 L162.91 281.50 L163.70 281.38 L164.48 281.26 L165.26 281.14 L166.05 281.02 L166.83 280.90 L167.61 280.77 L168.40 280.65 L169.18 280.52 L169.96 280.39 L170.75 280.25 L171.53 280.12 L172.31 279.98 L173.10 279.85 L173.88 279.71 L174.66 279.57 L175.45 279.42 L176.23 279.28 L177.01 279.13 L177.80 278.99 L178.58 278.84 L179.37 278.69 L180.15 278.54 L180.93 278.38 L181.72 278.23 L182.50 278.07 L183.28 277.91 L184.07 277.75 L184.85 277.59 L185.63 277.42 L186.42 277.26 L187.20 277.09 L187.98 276.92 L188.77 276.75 L189.55 276.58 L190.33 276.41 L191.12 276.23 L191.90 276.06 L192.68 275.88 L193.47 275.70 L194.25 275.52 L195.03 275.33 L195.82 275.15 L196.60 274.96 L197.38 274.78 L198.17 274.59 L198.95 274.40 L199.73 274.21 L200.52 274.01 L201.30 273.82 L202.08 273.62 L202.87 273.43 L203.65 273.23 L204.43 273.02 L205.22 272.82 L206.00 272.62 L206.79 272.41 L207.57 272.21 L208.35 272.00 L209.14 271.79 L209.92 271.58 L210.70 271.36 L211.49 271.15 L212.27 270.93 L213.05 270.72 L213.84 270.50 L214.62 270.28 L215.40 270.05 L216.19 269.83 L216.97 269.61 L217.75 269.38 L218.54 269.15 L219.32 268.92 L220.10 268.69 L220.89 268.46 L221.67 268.22 L222.45 267.99 L223.24 267.75 L224.02 267.51 L224.80 267.27 L225.59 267.03 L226.37 266.79 L227.15 266.54 L227.94 266.29 L228.72 266.04 L229.50 265.79 L230.29 265.54 L231.07 265.29 L231.85 265.04 L232.64 264.78 L233.42 264.52 L234.21 264.26 L234.99 264.00 L235.77 263.74 L236.56 263.47 L237.34 263.21 L238.12 262.94 L238.91 262.67 L239.69 262.40 L240.47 262.13 L241.26 261.85 L242.04 261.58 L242.82 261.30 L243.61 261.02 L244.39 260.74 L245.17 260.45 L245.96 260.17 L246.74 259.88 L247.52 259.59 L248.31 259.30 L249.09 259.01 L249.87 258.72 L250.66 258.42 L251.44 258.13 L252.22 257.83 L253.01 257.53 L253.79 257.23 L254.57 256.92 L255.36 256.62 L256.14 256.31 L256.92 256.00 L257.71 255.69 L258.49 255.37 L259.27 255.06 L260.06 254.74 L260.84 254.42 L261.63 254.10 L262.41 253.78 L263.19 253.45 L263.98 253.13 L264.76 252.80 L265.54 252.47 L266.33 252.13 L267.11 251.80 L267.89 251.46 L268.68 251.13 L269.46 250.78 L270.24 250.44 L271.03 250.10 L271.81 249.75 L272.59 249.40 L273.38 249.05 L274.16 248.70 L274.94 248.34 L275.73 247.99 L276.51 247.63 L277.29 247.27 L278.08 246.90 L278.86 246.54 L279.64 246.17 L280.43 245.80 L281.21 245.43 L281.99 245.05 L282.78 244.68 L283.56 244.30 L284.34 243.92 L285.13 243.54 L285.91 243.15 L286.70 242.76 L287.48 242.37 L288.26 241.98 L289.05 241.59 L289.83 241.19 L290.61 240.79 L291.40 240.39 L292.18 239.98 L292.96 239.58 L293.75 239.17 L294.53 238.76 L295.31 238.35 L296.10 237.93 L296.88 237.51 L297.66 237.09 L298.45 236.67 L299.23 236.24 L300.01 235.81 L300.80 235.38 L301.58 234.95 L302.36 234.51 L303.15 234.08 L303.93 233.64 L304.71 233.19 L305.50 232.75 L306.28 232.30 L307.06 231.85 L307.85 231.39 L308.63 230.94 L309.41 230.48 L310.20 230.01 L310.98 229.55 L311.76 229.08 L312.55 228.61 L313.33 228.14 L314.12 227.66 L314.90 227.19 L315.68 226.70 L316.47 226.22 L317.25 225.73 L318.03 225.24 L318.82 224.75 L319.60 224.26 L320.38 223.76 L321.17 223.26 L321.95 222.75 L322.73 222.24 L323.52 221.73 L324.30 221.22 L325.08 220.70 L325.87 220.19 L326.65 219.66 L327.43 219.14 L328.22 218.61 L329.00 218.08 L329.78 217.54 L330.57 217.01 L331.35 216.47 L332.13 215.92 L332.92 215.37 L333.70 214.82 L334.48 214.27 L335.27 213.71 L336.05 213.15 L336.83 212.59 L337.62 212.02 L338.40 211.45 L339.18 210.88 L339.97 210.30 L340.75 209.72 L341.54 209.14 L342.32 208.55 L343.10 207.96 L343.89 207.37 L344.67 206.77 L345.45 206.17 L346.24 205.57 L347.02 204.96 L347.80 204.35 L348.59 203.73 L349.37 203.11 L350.15 202.49 L350.94 201.87 L351.72 201.24 L352.50 200.60 L353.29 199.97 L354.07 199.33 L354.85 198.68 L355.64 198.04 L356.42 197.38 L357.20 196.73 L357.99 196.07 L358.77 195.40 L359.55 194.74 L360.34 194.07 L361.12 193.39 L361.90 192.71 L362.69 192.03 L363.47 191.34 L364.25 190.65 L365.04 189.96 L365.82 189.26 L366.60 188.55 L367.39 187.85 L368.17 187.14 L368.96 186.42 L369.74 185.70 L370.52 184.98 L371.31 184.25 L372.09 183.52 L372.87 182.78 L373.66 182.04 L374.44 181.29 L375.22 180.54 L376.01 179.79 L376.79 179.03 L377.57 178.27 L378.36 177.50 L379.14 176.73 L379.92 175.95 L380.71 175.17 L381.49 174.39 L382.27 173.60 L383.06 172.80 L383.84 172.00 L384.62 171.20 L385.41 170.39 L386.19 169.58 L386.97 168.76 L387.76 167.93 L388.54 167.11 L389.32 166.27 L390.11 165.44 L390.89 164.59 L391.67 163.75 L392.46 162.89 L393.24 162.04 L394.02 161.17 L394.81 160.31 L395.59 159.44 L396.38 158.56 L397.16 157.67 L397.94 156.79 L398.73 155.89 L399.51 155.00 L400.29 154.09 L401.08 153.18 L401.86 152.27 L402.64 151.35 L403.43 150.43 L404.21 149.50 L404.99 148.56 L405.78 147.62 L406.56 146.67 L407.34 145.72 L408.13 144.76 L408.91 143.80 L409.69 142.83 L410.48 141.85 L411.26 140.87 L412.04 139.89 L412.83 138.90 L413.61 137.90 L414.39 136.90 L415.18 135.89 L415.96 134.87 L416.74 133.85 L417.53 132.82 L418.31 131.79 L419.09 130.75 L419.88 129.70 L420.66 128.65 L421.44 127.60 L422.23 126.53 L423.01 125.46 L423.80 124.39 L424.58 123.30 L425.36 122.21 L426.15 121.12 L426.93 120.02 L427.71 118.91 L428.50 117.80 L429.28 116.67 L430.06 115.55 L430.85 114.41 L431.63 113.27 L432.41 112.12 L433.20 110.97 L433.98 109.81 L434.76 108.64 L435.55 107.47 L436.33 106.29 L437.11 105.10 L437.90 103.90 L438.68 102.70 L439.46 101.49 L440.25 100.27 L441.03 99.05 L441.81 97.82 L442.60 96.58 L443.38 95.34 L444.16 94.08 L444.95 92.83 L445.73 91.56 L446.51 90.28 L447.30 89.00 L448.08 87.71 L448.87 86.42 L449.65 85.11 L450.43 83.80 L451.22 82.48 L452.00 81.15 L452.78 79.82 L453.57 78.47 L454.35 77.12 L455.13 75.76 L455.92 74.40 L456.70 73.02 L457.48 71.64 L458.27 70.25 L459.05 68.85 L459.83 67.44 L460.62 66.03 L461.40 64.60 L462.18 63.17 L462.97 61.73 L463.75 60.28 L464.53 58.82 L465.32 57.36 L466.10 55.88 L466.88 54.40 L467.67 52.91 L468.45 51.41" fill="none" stroke="#ff0000" stroke-width="1.1"/>
<text x="53.1" y="329.5" font-size="16.8" text-anchor="middle">−1.0</text>
<text x="125.5" y="329.5" font-size="16.8" text-anchor="middle">−0.5</text>
<text x="270.2" y="329.5" font-size="16.8" text-anchor="middle">0.5</text>
<text x="342.5" y="329.5" font-size="16.8" text-anchor="middle">1.0</text>
<text x="414.8" y="329.5" font-size="16.8" text-anchor="middle">1.5</text>
<text x="192.2" y="245.6" font-size="16.8" text-anchor="end">2</text>
<text x="192.2" y="176.1" font-size="16.8" text-anchor="end">4</text>
<text x="192.2" y="106.6" font-size="16.8" text-anchor="end">6</text>
<text x="192.2" y="37.1" font-size="16.8" text-anchor="end">8</text>
<text transform="translate(341.6 57.9) rotate(-73)" font-size="16.5" text-anchor="middle" y="5.3">(16, −5)</text>
<text transform="translate(372.0 62.4) rotate(-68.5)" font-size="16.5" text-anchor="middle" y="5.3">(7, −1)</text>
<text transform="translate(408.9 62.5) rotate(-64.5)" font-size="16.5" text-anchor="middle" y="5.3">(8, −3)</text>
<text transform="translate(430.9 67) rotate(-65)" font-size="16.5" text-anchor="middle" y="5.3">(6, −2)</text>
<text transform="translate(449.3 66.2) rotate(-62.5)" font-size="16.5" text-anchor="middle" y="5.3">(14, −10)</text>
<text transform="translate(443.3 140.2) rotate(-50)" font-size="16.5" text-anchor="middle" y="5.3">(4, −1)</text>
<text x="185.48" y="11.90" font-size="17.4" class="i">a</text>
<text x="194.38" y="11.20" font-size="15.6">(</text>
<text x="198.23" y="11.90" font-size="16.8" class="i">t</text>
<text x="203.73" y="11.20" font-size="15.6">)</text>
<text x="482.56" y="311.80" font-size="15.9" class="i">H</text>
<text x="493.71" y="315.00" font-size="12.2">0</text>
<text x="499.76" y="311.80" font-size="15.9">(</text>
<text x="504.96" y="311.80" font-size="15.9" class="i">t</text>
<text x="514.78" y="312.60" font-size="18.5">−</text>
<text x="529.26" y="311.80" font-size="15.9" class="i">t</text>
<text x="533.61" y="315.00" font-size="12.2">0</text>
<text x="539.82" y="311.80" font-size="15.9">)</text>
<!-- annotation -->
<g transform="translate(53.40 75.60)" fill="none" stroke="#000" stroke-linecap="round" stroke-linejoin="round"><path d="M4.2 2.8 C3.9 1.1 5.1 0.5 6.3 1.4 C7.5 2.3 8.8 2.2 10.2 1.6" stroke-width="1.0"/><path d="M10.2 1.6 C8.2 4.6 2.0 8.6 1.0 12.2 C0.5 14.2 1.6 15.0 3.6 15.1" stroke-width="1.6"/><path d="M3.6 15.1 C6.0 15.2 8.0 16.0 7.7 17.8 C7.4 19.4 5.4 20.2 3.4 20.0" stroke-width="1.15"/></g><path d="M55.50 72.20 c0.9 -1.9 2.2 -1.8 3.3 -0.8 s2.4 1.1 3.3 -0.8" fill="none" stroke="#000" stroke-width="1.3" stroke-linecap="round"/>
<text x="63.58" y="96.70" font-size="15.5">0</text>
<path d="M73.3 80.65 L84.4 85.45 L73.3 90.25" fill="none" stroke="#000" stroke-width="1.15" stroke-linejoin="miter"/>
<text x="85.82" y="91.30" font-size="22">0</text>
<text x="97.22" y="91.30" font-size="22">,</text>
<g transform="translate(113.80 75.60)" fill="none" stroke="#000" stroke-linecap="round" stroke-linejoin="round"><path d="M4.2 2.8 C3.9 1.1 5.1 0.5 6.3 1.4 C7.5 2.3 8.8 2.2 10.2 1.6" stroke-width="1.0"/><path d="M10.2 1.6 C8.2 4.6 2.0 8.6 1.0 12.2 C0.5 14.2 1.6 15.0 3.6 15.1" stroke-width="1.6"/><path d="M3.6 15.1 C6.0 15.2 8.0 16.0 7.7 17.8 C7.4 19.4 5.4 20.2 3.4 20.0" stroke-width="1.15"/></g><path d="M116.10 72.20 c0.9 -1.9 2.2 -1.8 3.3 -0.8 s2.4 1.1 3.3 -0.8" fill="none" stroke="#000" stroke-width="1.3" stroke-linecap="round"/>
<text x="124.65" y="96.80" font-size="15">1</text>
<path d="M145.4 81.0 L134.3 85.8 L145.4 90.6" fill="none" stroke="#000" stroke-width="1.15" stroke-linejoin="miter"/>
<text x="146.22" y="91.30" font-size="22">0</text>
<text x="38.9" y="148.4" font-size="16">with:</text>
<g transform="translate(44.20 161.90)" fill="none" stroke="#000" stroke-linecap="round" stroke-linejoin="round"><path d="M4.2 2.8 C3.9 1.1 5.1 0.5 6.3 1.4 C7.5 2.3 8.8 2.2 10.2 1.6" stroke-width="1.0"/><path d="M10.2 1.6 C8.2 4.6 2.0 8.6 1.0 12.2 C0.5 14.2 1.6 15.0 3.6 15.1" stroke-width="1.6"/><path d="M3.6 15.1 C6.0 15.2 8.0 16.0 7.7 17.8 C7.4 19.4 5.4 20.2 3.4 20.0" stroke-width="1.15"/></g><path d="M46.30 158.50 c0.9 -1.9 2.2 -1.8 3.3 -0.8 s2.4 1.1 3.3 -0.8" fill="none" stroke="#000" stroke-width="1.3" stroke-linecap="round"/>
<text x="54.38" y="183.80" font-size="15.5">0</text>
<text x="68.80" y="178.90" font-size="24">+</text>
<g transform="translate(88.00 161.90)" fill="none" stroke="#000" stroke-linecap="round" stroke-linejoin="round"><path d="M4.2 2.8 C3.9 1.1 5.1 0.5 6.3 1.4 C7.5 2.3 8.8 2.2 10.2 1.6" stroke-width="1.0"/><path d="M10.2 1.6 C8.2 4.6 2.0 8.6 1.0 12.2 C0.5 14.2 1.6 15.0 3.6 15.1" stroke-width="1.6"/><path d="M3.6 15.1 C6.0 15.2 8.0 16.0 7.7 17.8 C7.4 19.4 5.4 20.2 3.4 20.0" stroke-width="1.15"/></g><path d="M90.60 158.50 c0.9 -1.9 2.2 -1.8 3.3 -0.8 s2.4 1.1 3.3 -0.8" fill="none" stroke="#000" stroke-width="1.3" stroke-linecap="round"/>
<text x="99.05" y="184.00" font-size="15">1</text>
<path d="M114 167 L124.8 171 L114 175" fill="none" stroke="#000" stroke-width="1.1"/><path d="M113.8 177.3 H125" stroke="#000" stroke-width="1.3"/>
<text x="131.90" y="177.60" font-size="22">3</text>
</svg>
</body></html>
